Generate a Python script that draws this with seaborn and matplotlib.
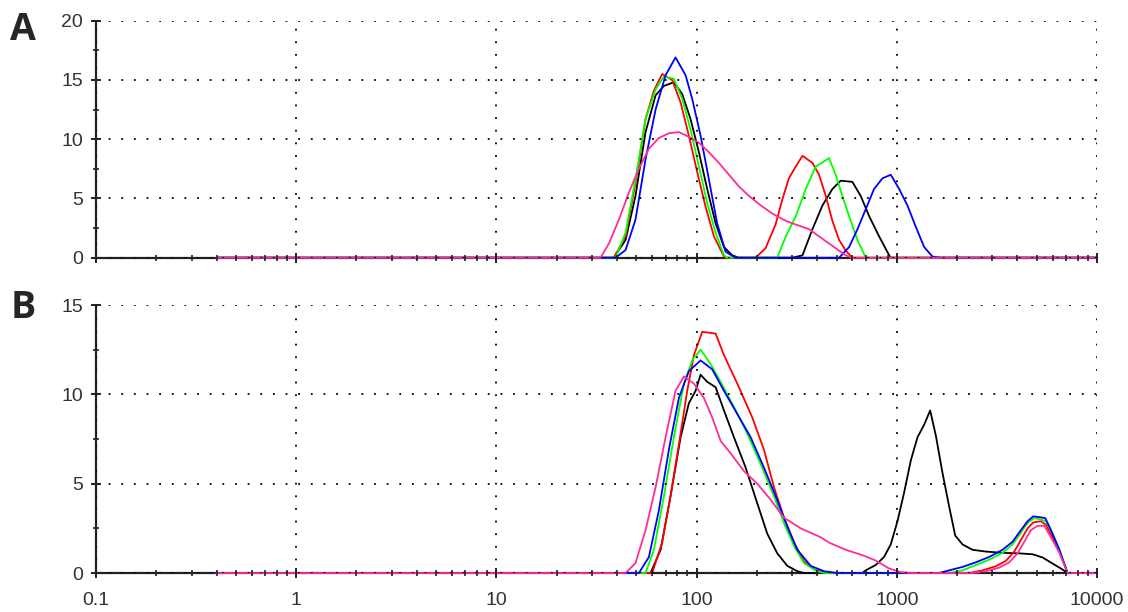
import numpy as np
import pandas as pd
import matplotlib
matplotlib.use("Agg")
import matplotlib.pyplot as plt
from matplotlib.ticker import LogLocator, MultipleLocator, NullFormatter, FixedLocator
import seaborn as sns

# ---------------- data (size in nm, intensity %) ----------------
# Panel A
a_red_x = [0.4, 38.6, 44.2, 49.5, 55.6, 61.2, 67.3, 75.5, 83.2, 91.5, 100.8, 110.9, 122.1, 137, 139.6,
           197, 221, 248, 268, 289, 313, 338, 379, 409, 442, 477, 515, 556, 600, 10000]
a_red_y = [0, 0, 1.8, 6.3, 11.7, 14.1, 15.5, 15.0, 13.1, 10.3, 7.2, 4.3, 1.8, 0.1, 0,
           0, 0.8, 2.8, 4.9, 6.7, 7.7, 8.6, 8.0, 7.0, 5.2, 3.1, 1.5, 0.6, 0, 0]
a_green_x = [0.4, 39.4, 44.2, 49.5, 55.6, 62.4, 68.7, 77, 84.8, 93.3, 102.7, 113, 124.5, 137, 142.4,
             253, 279, 313, 351, 394, 459, 495, 535, 578, 636, 700, 10000]
a_green_y = [0, 0, 2.1, 6.6, 11.7, 14.2, 15.3, 15.1, 13.4, 10.8, 7.7, 4.6, 2.1, 0.2, 0,
             0, 1.8, 3.5, 5.8, 7.7, 8.4, 7.0, 5.2, 3.5, 1.5, 0, 0]
a_black_x = [0.4, 38.6, 44.2, 49.5, 55.6, 62.4, 68.7, 77, 84.8, 93.3, 102.7, 113, 124.5, 137, 150.7, 162.8,
             301, 338, 379, 425, 477, 525, 600, 661, 728, 816, 916, 933, 10000]
a_black_y = [0, 0, 1.5, 5.2, 10.6, 13.7, 14.5, 14.8, 13.8, 11.7, 8.9, 5.8, 2.9, 0.9, 0.2, 0,
             0, 0.2, 2.4, 4.4, 5.8, 6.5, 6.4, 5.2, 3.5, 1.8, 0.2, 0, 0]
a_blue_x = [0.4, 39.4, 44.2, 49.5, 55.6, 62.4, 70, 78.5, 88.1, 95.1, 104.7, 115.2, 126.7, 139.6, 156.7,
            515, 578, 636, 700, 770, 848, 933, 1028, 1131, 1245, 1370, 1507, 1660, 10000]
a_blue_y = [0, 0, 0.65, 3.2, 8.3, 12.5, 15.4, 16.9, 15.4, 13.4, 10.3, 6.6, 2.9, 0.5, 0,
            0, 0.9, 2.4, 4.1, 5.8, 6.7, 7.0, 5.8, 4.4, 2.6, 0.9, 0.1, 0, 0]
a_pink_x = [0.4, 33.1, 36.5, 40.9, 45.9, 51.5, 57.8, 64.8, 72.7, 81.6, 91.5, 102.7, 115.2, 129.3, 145.1,
            163, 183, 206, 240, 280, 313, 365, 425, 495, 556, 600, 10000]
a_pink_y = [0, 0, 1.2, 3.2, 5.5, 7.5, 9.2, 10.1, 10.5, 10.6, 10.2, 9.7, 8.9, 8.0, 7.0,
            6.0, 5.2, 4.5, 3.7, 3.1, 2.8, 2.4, 1.6, 0.8, 0.2, 0, 0]

# Panel B
b_red_x = [0.4, 60, 67.3, 74.1, 81.6, 89.8, 97, 106.7, 124.5, 137, 159.7, 189.8, 217, 243.6, 273.3, 306.7,
           344, 386, 433, 450, 2300, 2680, 3126, 3508, 3863, 4169, 4500, 4805, 5240, 5560, 6000, 6490,
           7130, 10000]
b_red_y = [0, 0, 1.7, 4.3, 7.2, 10.2, 12.2, 13.5, 13.4, 12.2, 10.6, 8.7, 6.9, 4.8, 3.1, 1.7,
           0.65, 0.2, 0.05, 0, 0, 0.15, 0.38, 0.68, 1.2, 1.85, 2.5, 2.83, 2.9, 2.7, 2.0, 1.2,
           0, 0]
b_green_x = [0.4, 55.6, 61.2, 68.7, 77, 86.4, 95.1, 104.7, 117.5, 131.8, 153.7, 179.2, 208.9, 243.6, 273,
             307, 344, 401, 433, 1828, 2130, 2483, 2895, 3375, 3787, 4169, 4500, 4860, 5240, 5560,
             6000, 6490, 7130, 10000]
b_green_y = [0, 0, 1.3, 4.3, 7.6, 10.6, 11.9, 12.5, 11.7, 10.7, 9.3, 7.8, 6.1, 4.3, 2.8,
             1.5, 0.55, 0.1, 0, 0, 0.15, 0.45, 0.75, 1.13, 1.6, 2.26, 2.8, 3.07, 3.0, 2.9,
             2.2, 1.3, 0, 0]
b_blue_x = [0.4, 51.5, 57.8, 64.8, 72.7, 81.6, 91.5, 104.7, 119.7, 137, 159.7, 186.2, 217, 248.4, 284,
            318.6, 371.5, 433, 505, 1628, 1828, 2130, 2483, 2895, 3375, 3787, 4169, 4500, 4805,
            5150, 5520, 5890, 6490, 7130, 10000]
b_blue_y = [0, 0, 0.9, 3.5, 6.9, 9.8, 11.3, 11.9, 11.4, 10.2, 8.9, 7.6, 5.9, 4.3, 2.6,
            1.3, 0.4, 0.1, 0, 0, 0.15, 0.34, 0.6, 0.9, 1.3, 1.75, 2.4, 2.9, 3.17,
            3.13, 3.07, 2.4, 1.3, 0, 0]
b_black_x = [0.4, 58.9, 66.1, 74.1, 83.2, 91.5, 98.9, 104.7, 113, 124.5, 137, 153.7, 175.8, 201, 225.5,
             253, 284, 318.6, 344, 673, 700, 785, 864, 933, 1008, 1088, 1175, 1269, 1370, 1468,
             1567, 1692, 1828, 1958, 2130, 2390, 2787, 3375, 4090, 4770, 5350, 6000, 6610, 7130, 10000]
b_black_y = [0, 0, 1.3, 4.3, 7.6, 9.5, 10.2, 11.1, 10.7, 10.4, 9.1, 7.6, 5.9, 3.9, 2.2,
             1.1, 0.4, 0.1, 0, 0, 0.15, 0.45, 0.9, 1.6, 2.9, 4.5, 6.3, 7.6, 8.3, 9.1,
             7.7, 5.6, 3.7, 2.1, 1.6, 1.3, 1.2, 1.13, 1.1, 1.05, 0.87, 0.53, 0.25, 0, 0]
b_pink_x = [0.4, 44.2, 49.5, 55.6, 62.4, 70, 78.5, 86.4, 97, 108.8, 119.7, 131.8, 147.9, 172.5, 201,
            234.4, 273, 331, 417, 459, 556, 673, 785, 916, 1047, 1175, 2390, 2787, 3250, 3648,
            4009, 4335, 4677, 5047, 5450, 5890, 6490, 7130, 10000]
b_pink_y = [0, 0, 0.55, 2.4, 4.8, 7.6, 10.2, 11.0, 10.6, 9.8, 8.7, 7.4, 6.7, 5.7, 5.0,
            4.1, 3.1, 2.5, 2.0, 1.7, 1.3, 1.0, 0.7, 0.25, 0.05, 0, 0, 0.1, 0.3, 0.6,
            1.1, 1.75, 2.4, 2.64, 2.64, 2.0, 1.13, 0, 0]

x_ticks = [0.1, 1, 10, 100, 1000, 10000]
x_tick_labels = ["0.1", "1", "10", "100", "1000", "10000"]

colors = {"black": "#000000", "red": "#ff0000", "green": "#00ff00",
          "blue": "#0000ff", "pink": "#ff2d96"}
order = ["black", "red", "green", "blue", "pink"]


def make_df(curves):
    frames = []
    for name, (xs, ys) in curves.items():
        frames.append(pd.DataFrame({"size": xs, "intensity": ys, "sample": name}))
    return pd.concat(frames, ignore_index=True)


df_a = make_df({"black": (a_black_x, a_black_y), "red": (a_red_x, a_red_y),
                "green": (a_green_x, a_green_y), "blue": (a_blue_x, a_blue_y),
                "pink": (a_pink_x, a_pink_y)})
df_b = make_df({"black": (b_black_x, b_black_y), "red": (b_red_x, b_red_y),
                "green": (b_green_x, b_green_y), "blue": (b_blue_x, b_blue_y),
                "pink": (b_pink_x, b_pink_y)})

sns.set_style("white")
plt.rcParams["font.family"] = ["Liberation Sans", "DejaVu Sans"]

fig = plt.figure(figsize=(11.28, 6.12), dpi=100)
ax_a = fig.add_axes([0.0851, 0.5789, 0.8874, 0.3873])
ax_b = fig.add_axes([0.0851, 0.0637, 0.8874, 0.4379])


def style_axis(ax, ymax, show_xlabels):
    ax.set_xscale("log")
    ax.set_xlim(0.1, 10000)
    ax.set_ylim(0, ymax)
    ax.xaxis.set_major_locator(FixedLocator(x_ticks))
    ax.xaxis.set_minor_locator(LogLocator(base=10, subs=np.arange(2, 10), numticks=50))
    ax.xaxis.set_minor_formatter(NullFormatter())
    if show_xlabels:
        ax.set_xticklabels(x_tick_labels)
    else:
        ax.set_xticklabels([])
    ax.yaxis.set_major_locator(MultipleLocator(5))
    ax.yaxis.set_minor_locator(MultipleLocator(2.5))
    ax.grid(True, which="major", color="black", linestyle=(0, (1, 6)), linewidth=1.3)
    ax.set_axisbelow(True)
    for s in ["top", "right"]:
        ax.spines[s].set_visible(False)
    for s in ["left", "bottom"]:
        ax.spines[s].set_color("#222222")
        ax.spines[s].set_linewidth(1.6)
    ax.tick_params(which="both", bottom=True, left=True, top=False, right=False)
    ax.tick_params(which="major", direction="inout", length=7, width=1.4,
                   colors="#222222", labelsize=14)
    ax.tick_params(which="minor", direction="inout", length=5, width=1.2, colors="#222222")
    ax.tick_params(axis="y", labelcolor="#333333", pad=6)
    ax.tick_params(axis="x", labelcolor="#333333", pad=10)
    # ticks drawn above the curves, curves above the spines
    ax.xaxis.set_zorder(2.8)
    ax.yaxis.set_zorder(2.8)
    ax.set_xlabel("")
    ax.set_ylabel("")


for ax, df in [(ax_a, df_a), (ax_b, df_b)]:
    sns.lineplot(data=df, x="size", y="intensity", hue="sample", hue_order=order,
                 palette=colors, ax=ax, legend=False, linewidth=1.3, estimator=None,
                 sort=False, clip_on=False, zorder=2.6)

style_axis(ax_a, 20, False)
style_axis(ax_b, 15, True)

fig.text(0.009, 0.935, "A", fontsize=27, fontweight="bold", family=["Open Sans", "DejaVu Sans"])
fig.text(0.009, 0.48, "B", fontsize=27, fontweight="bold", family=["Open Sans", "DejaVu Sans"])

fig.savefig("out.png", dpi=100)
